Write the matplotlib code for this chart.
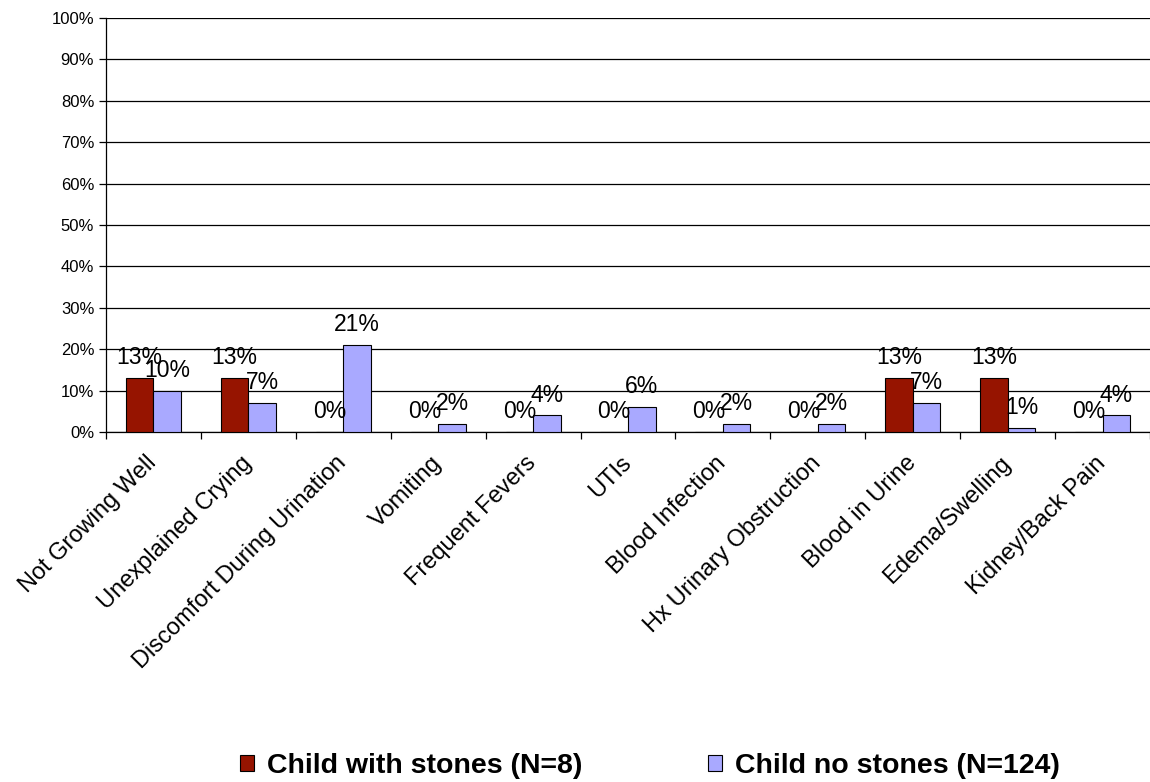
import matplotlib
matplotlib.use("Agg")
import matplotlib.pyplot as plt
from matplotlib.patches import Patch
import numpy as np

plt.rcParams['font.family'] = ['Liberation Sans', 'DejaVu Sans']

# symptom categories and percent of children reporting each
categories = ["Not Growing Well", "Unexplained Crying", "Discomfort During Urination",
              "Vomiting", "Frequent Fevers", "UTIs", "Blood Infection",
              "Hx Urinary Obstruction", "Blood in Urine", "Edema/Swelling",
              "Kidney/Back Pain"]
with_stones = [13, 13, 0, 0, 0, 0, 0, 0, 13, 13, 0]
no_stones = [10, 7, 21, 2, 4, 6, 2, 2, 7, 1, 4]
series_names = ["Child with stones (N=8)", "Child no stones (N=124)"]
y_ticks = [0, 10, 20, 30, 40, 50, 60, 70, 80, 90, 100]

red = '#961400'
blue = '#A9A9FF'

fig = plt.figure(figsize=(11.5, 7.82), dpi=100)
ax = fig.add_axes([106 / 1150, 1 - 432 / 782, 1044 / 1150, 414 / 782])

x = np.arange(len(categories))
w = 0.29
b1 = ax.bar(x - w / 2, with_stones, w, color=red, edgecolor='black', linewidth=0.8, zorder=3)
b2 = ax.bar(x + w / 2, no_stones, w, color=blue, edgecolor='black', linewidth=0.8, zorder=3)

# value labels above each bar
for bars, vals in ((b1, with_stones), (b2, no_stones)):
    for r, v in zip(bars, vals):
        ax.annotate(f"{v}%", (r.get_x() + r.get_width() / 2, v),
                    xytext=(0, 10), textcoords='offset points',
                    ha='center', va='baseline', fontsize=16.5, zorder=4)

ax.set_xlim(-0.5, len(categories) - 0.5)
ax.set_ylim(0, 100)
ax.set_yticks(y_ticks)
ax.set_yticklabels([f"{t}%" for t in y_ticks], fontsize=12)
ax.yaxis.grid(True, color='black', linewidth=0.9, zorder=0)
ax.set_axisbelow(True)

# ticks between groups, labels at group centres
ax.set_xticks(np.arange(-0.5, len(categories), 1.0))
ax.set_xticklabels([])
ax.set_xticks(x, minor=True)
ax.set_xticklabels(categories, minor=True, rotation=45, ha='right', va='center',
                   rotation_mode='anchor', fontsize=17)
ax.tick_params(axis='x', which='minor', length=0, pad=20)
ax.tick_params(axis='both', which='major', direction='out', length=5, width=0.9, color='black')

for s in ('top', 'right'):
    ax.spines[s].set_visible(False)
ax.spines['left'].set_linewidth(0.9)
ax.spines['bottom'].set_linewidth(0.9)

handles = [Patch(facecolor=red, edgecolor='black', linewidth=0.8),
           Patch(facecolor=blue, edgecolor='black', linewidth=0.8)]
fig.legend(handles, series_names, loc='center', bbox_to_anchor=(0.565, 0.0205),
           ncol=2, frameon=False, handlelength=0.5, handleheight=0.5,
           handletextpad=0.45, columnspacing=4.4,
           prop={'weight': 'bold', 'size': 20.5})

fig.savefig("out.png", dpi=100)
